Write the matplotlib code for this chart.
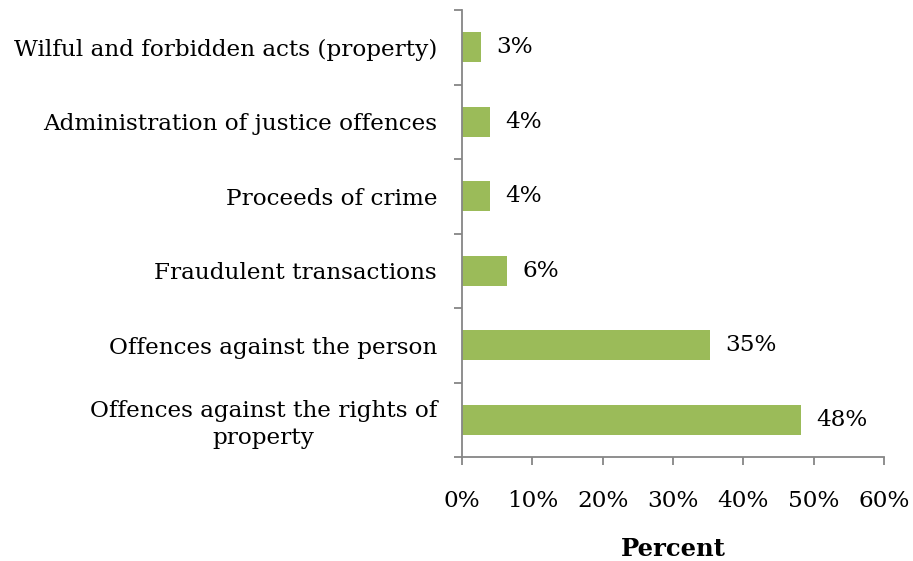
import matplotlib
matplotlib.use("Agg")
import matplotlib.pyplot as plt
import numpy as np

categories = [
    "Wilful and forbidden acts (property)",
    "Administration of justice offences",
    "Proceeds of crime",
    "Fraudulent transactions",
    "Offences against the person",
    "Offences against the rights of\nproperty",
]
values = [2.7, 4.0, 4.0, 6.4, 35.2, 48.2]
xticks = [0, 10, 20, 30, 40, 50, 60]
xlabel = "Percent"

plt.rcParams['font.family'] = ['DejaVu Serif']
fig = plt.figure(figsize=(9.13, 5.61), dpi=100)
ax = fig.add_axes([462/913, 1-457/561, (884-462)/913, (457-10)/561])

fs = 16.7
y = np.arange(len(categories))
ax.barh(y, values, height=0.4, color="#9BBB59", edgecolor="none")
ax.set_ylim(len(categories)-0.5, -0.5)
ax.set_xlim(0, 60)

for yi, v in zip(y, values):
    ax.annotate(f"{v:.0f}%", (v, yi), xytext=(11, 0), textcoords="offset points",
                va="center", ha="left", fontsize=fs)

ax.set_xticks(xticks)
ax.set_xticklabels([f"{t}%" for t in xticks], fontsize=fs)
ax.set_yticks(y)
ax.set_yticklabels(categories, fontsize=fs)
for lab in ax.get_yticklabels():
    lab.set_multialignment("center")
    lab.set_linespacing(1.3)
ax.set_yticks(np.arange(-0.5, len(categories)), minor=True)

spine_c = "#868686"
for s in ["top", "right"]:
    ax.spines[s].set_visible(False)
for s in ["left", "bottom"]:
    ax.spines[s].set_color(spine_c)
    ax.spines[s].set_linewidth(1.3)

ax.tick_params(axis="y", which="major", length=0, pad=18)
ax.tick_params(axis="y", which="minor", length=6, width=1.3, color=spine_c)
ax.tick_params(axis="x", which="major", length=6, width=1.3, color=spine_c, pad=18)

ax.set_xlabel(xlabel, fontsize=17.5, fontweight="bold", labelpad=18)

fig.savefig("out.png", dpi=100)
